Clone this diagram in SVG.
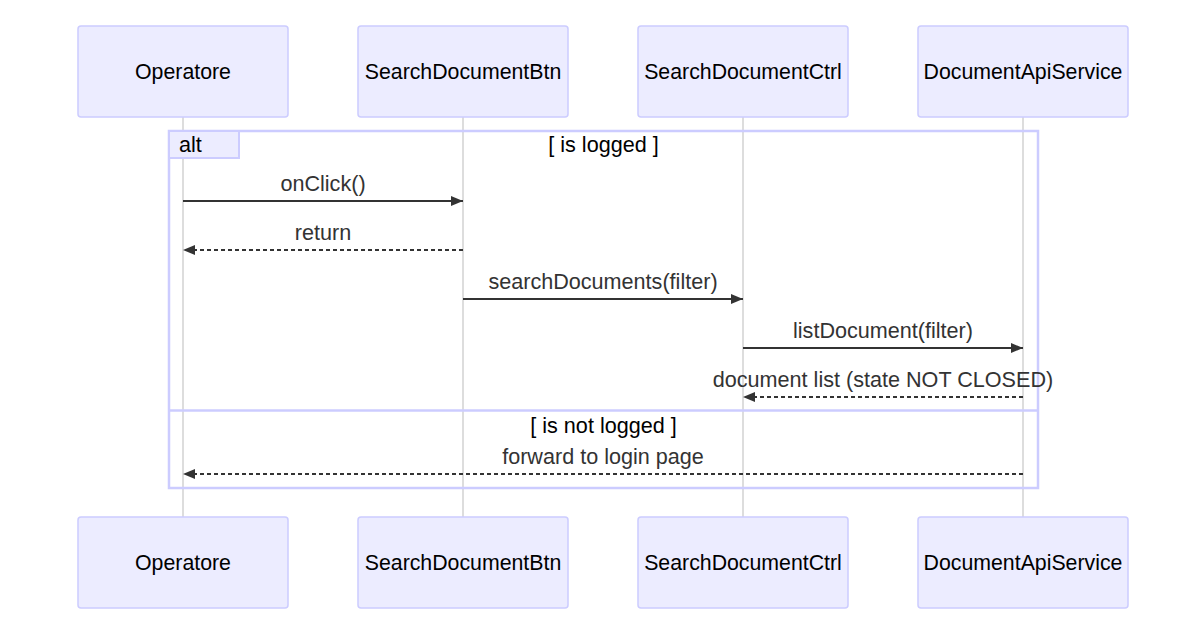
<svg xmlns="http://www.w3.org/2000/svg" width="1200" height="621" viewBox="0 0 1200 621">
<defs>
<style>
.actor{fill:#ECECFF;stroke:#CCCCFF;stroke-width:1.5}
.atext{font-family:"Liberation Sans",Arial,sans-serif;font-size:21.3px;fill:#000;text-anchor:middle;dominant-baseline:central}
.life{stroke:#BBBBBB;stroke-width:1}
.msg{stroke:#333;stroke-width:2;fill:none}
.dash{stroke-dasharray:4 3}
.mtext{font-family:"Liberation Sans",Arial,sans-serif;font-size:21.6px;fill:#333;text-anchor:middle}
.frame{fill:none;stroke:#CCCCFF;stroke-width:2.5}
.ltext{font-family:"Liberation Sans",Arial,sans-serif;font-size:21.6px;fill:#000}
</style>
<marker id="ah" viewBox="0 0 12 10" refX="12" refY="5" markerWidth="12" markerHeight="10" markerUnits="userSpaceOnUse" orient="auto">
<path d="M0,0 L12,5 L0,10 z" fill="#333"/>
</marker>
</defs>
<rect width="1200" height="621" fill="#fff"/>
<g id="lifelines">
<line class="life" x1="183" y1="117" x2="183" y2="517"/>
<line class="life" x1="463" y1="117" x2="463" y2="517"/>
<line class="life" x1="743" y1="117" x2="743" y2="517"/>
<line class="life" x1="1023" y1="117" x2="1023" y2="517"/>
</g>
<g id="actor-operatore-top"><rect class="actor" x="78" y="26" width="210" height="91" rx="3"/><text class="atext" x="183" y="71.5">Operatore</text></g>
<g id="actor-btn-top"><rect class="actor" x="358" y="26" width="210" height="91" rx="3"/><text class="atext" x="463" y="71.5">SearchDocumentBtn</text></g>
<g id="actor-ctrl-top"><rect class="actor" x="638" y="26" width="210" height="91" rx="3"/><text class="atext" x="743" y="71.5">SearchDocumentCtrl</text></g>
<g id="actor-api-top"><rect class="actor" x="918" y="26" width="210" height="91" rx="3"/><text class="atext" x="1023" y="71.5">DocumentApiService</text></g>
<g id="alt-frame">
<rect class="frame" x="169" y="131" width="869" height="357"/>
<line class="frame" x1="169" y1="410.5" x2="1038" y2="410.5"/>
<path d="M169,131 L239,131 L239,158 L169,158 z" fill="#ECECFF" stroke="#CCCCFF" stroke-width="2"/>
<text class="ltext" x="179" y="152">alt</text>
<text class="ltext" x="603.5" y="152" text-anchor="middle">[ is logged ]</text>
<text class="ltext" x="603.5" y="433" text-anchor="middle">[ is not logged ]</text>
</g>
<g id="connectors">
<text class="mtext" x="323" y="191">onClick()</text>
<line class="msg" x1="183" y1="201" x2="463" y2="201" marker-end="url(#ah)"/>
<text class="mtext" x="323" y="240">return</text>
<line class="msg dash" x1="463" y1="250" x2="183" y2="250" marker-end="url(#ah)"/>
<text class="mtext" x="603" y="289">searchDocuments(filter)</text>
<line class="msg" x1="463" y1="299" x2="743" y2="299" marker-end="url(#ah)"/>
<text class="mtext" x="883" y="338">listDocument(filter)</text>
<line class="msg" x1="743" y1="348" x2="1023" y2="348" marker-end="url(#ah)"/>
<text class="mtext" x="883" y="387">document list (state NOT CLOSED)</text>
<line class="msg dash" x1="1023" y1="397" x2="743" y2="397" marker-end="url(#ah)"/>
<text class="mtext" x="603" y="464">forward to login page</text>
<line class="msg dash" x1="1023" y1="474" x2="183" y2="474" marker-end="url(#ah)"/>
</g>
<g id="actor-operatore-bottom"><rect class="actor" x="78" y="517" width="210" height="91" rx="3"/><text class="atext" x="183" y="562.5">Operatore</text></g>
<g id="actor-btn-bottom"><rect class="actor" x="358" y="517" width="210" height="91" rx="3"/><text class="atext" x="463" y="562.5">SearchDocumentBtn</text></g>
<g id="actor-ctrl-bottom"><rect class="actor" x="638" y="517" width="210" height="91" rx="3"/><text class="atext" x="743" y="562.5">SearchDocumentCtrl</text></g>
<g id="actor-api-bottom"><rect class="actor" x="918" y="517" width="210" height="91" rx="3"/><text class="atext" x="1023" y="562.5">DocumentApiService</text></g>
</svg>
